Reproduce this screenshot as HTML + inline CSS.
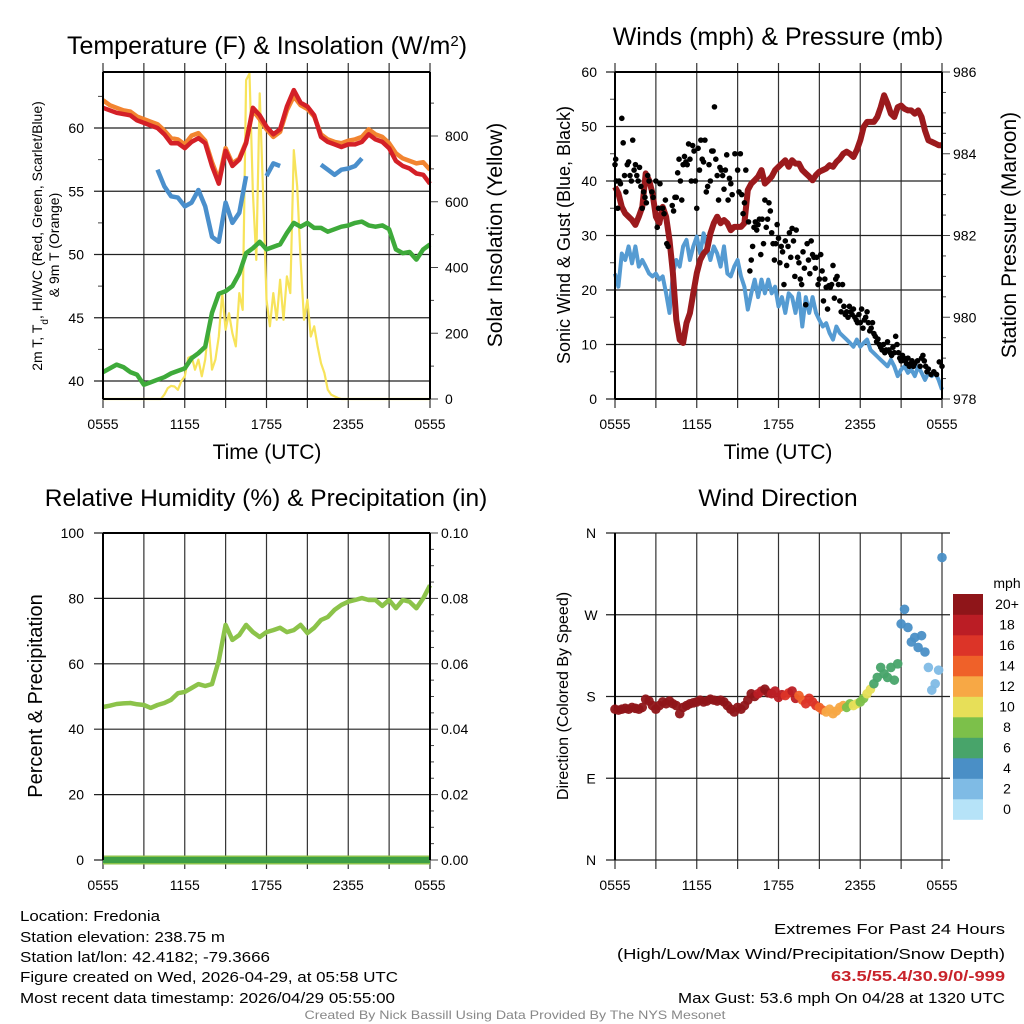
<!DOCTYPE html>
<html><head><meta charset="utf-8"><style>
html,body{margin:0;padding:0;background:#fff;}
svg{display:block;font-family:"Liberation Sans",Arial,sans-serif;}
</style></head><body>
<svg id="root" width="1024" height="1024" viewBox="0 0 1024 1024" xmlns="http://www.w3.org/2000/svg"></svg>
<script>
// ---------- DATA ----------
const timeTicks = ["0555","1155","1755","2355","0555"];
const tempRed = [61.6,61.4,61.2,61.1,61.0,60.6,60.4,60.2,60.0,59.5,58.8,58.8,58.4,58.9,59.2,58.8,57.0,55.6,58.2,57.0,57.5,58.8,61.6,61.0,60.1,59.5,59.9,61.7,63.0,62.0,61.7,61.0,59.3,58.9,58.7,58.5,58.7,58.7,58.9,59.5,59.1,58.9,58.4,57.4,57.0,56.8,56.4,56.3,55.6];
const temp9m = [62.2,61.8,61.6,61.4,61.3,60.9,60.7,60.5,60.3,59.8,59.2,59.1,58.7,59.4,59.6,59.0,57.3,55.9,58.4,57.2,57.6,58.9,61.4,60.7,59.9,59.3,59.7,61.4,62.5,61.8,61.5,60.9,59.5,59.1,58.9,58.8,59.0,59.1,59.3,59.9,59.5,59.3,58.8,58.0,57.6,57.4,57.2,57.3,56.7];
const dewpt = [40.7,41.0,41.3,41.1,40.7,40.5,39.7,39.9,40.1,40.3,40.6,40.8,41.0,41.8,42.2,42.7,45.4,46.9,47.1,47.5,48.5,50.1,50.5,51.0,50.4,50.6,50.8,51.7,52.5,52.2,52.5,52.1,52.1,51.8,52.0,52.2,52.3,52.5,52.6,52.3,52.2,52.3,52.0,50.4,50.1,50.2,49.6,50.4,50.8];
const hiwc = [null,null,null,null,null,null,null,null,56.7,55.4,54.6,54.5,53.8,54.1,55.1,53.8,51.4,51.0,54.1,52.5,53.3,56.2,null,null,56.2,57.2,57.0,null,null,null,null,null,57.1,56.7,56.3,56.7,56.8,57.0,57.6,null,null,null,null,null,null,null,null,null,null];
const solar = [0,0,0,0,0,0,0,0,0,0,0,0,0,0,0,0,
 0,0,13,33, 40,38,28,54, 69,125,130,89, 120,69,120,221, 89,120,190,322, 211,261,200,160,
 322,271,970,990, 626,423,930,626, 302,221,322,241, 363,241,373,322, 757,646,423,241,
 302,190,221,160, 109,79,28,13, 8,3,0,0,
 0,0,0,0,0,0,0,0,0,0,0,0,0,0,0,0,0,0,0,0,0,0,0,0, 0];
const wind = [23,20.6,26.7,25.5, 28,24.9,28,24.3, 25.5,24.3,23,22.5, 23,21.9,22.5,19.4, 15.8,23,25.5,24.3, 28,29.2,25.5,28, 29.8,26.7,30.4,28, 25.5,28,26.7,24.3, 28,23,22.5,24.3, 25.5,22.5,20.6,16.4, 19.4,21.9,18.7,21.9, 19.4,21.9,19.4,20.6, 17,18.7,15.8,19.4, 18.7,15.8,19.4,13.3, 18.7,15.8,18.7,15.8, 14.5,13.3,13.9,12.1, 10.9,13.3,12.1,11.5, 10.9,10.3,9.6,10.9, 9.6,10.3,10.9,9, 8.4,7.8,7.2,6.6, 6,7.2,6,4.2, 5.4,6,4.8,5.4, 4.2,6,4.8,3.5, 4.8,4.2,4.8,3.5, 1.7];
const pressure = [983.19,983.03,982.70,982.54, 982.46,982.38,982.26,982.46, 982.70,983.52,983.35,983.03, 982.46,982.30,982.70,982.46, 981.89,981.08,979.94,979.45, 979.37,979.86,980.10,980.59, 981.08,981.40,981.56,981.65, 982.05,982.30,982.46,982.30, 982.38,982.30,982.13,982.21, 982.21,982.21,982.30,983.11, 983.27,983.35,983.44,983.60, 983.27,983.35,983.44,983.60, 983.68,983.76,983.84,983.68, 983.84,983.76,983.76,983.60, 983.52,983.44,983.35,983.48, 983.56,983.60,983.64,983.72, 983.68,983.80,983.88,984.00, 984.05,984.00,983.92,984.09, 984.33,984.66,984.78,984.78, 984.78,984.90,985.14,985.43, 985.23,984.98,984.90,985.14, 985.18,985.10,985.06,985.06, 984.98,985.06,984.90,984.57, 984.33,984.29,984.25,984.21, 984.21];
const gustT = [0.0,0.05,0.1,0.2,0.3,0.4,0.5,0.6,0.7,0.8,0.9,1.0,1.1,1.2,1.3,1.4,1.5,1.6,1.7,1.8,1.9,2.0,2.1,2.2,2.3,2.4,2.5,2.7,2.8,3.0,3.1,3.2,3.3,3.5,3.6,3.7,3.8,3.9,4.2,4.3,4.4,4.5,4.6,4.7,4.8,4.9,5.0,5.1,5.2,5.3,5.4,5.5,5.6,5.7,5.8,5.9,6.0,6.1,6.2,6.3,6.4,6.5,6.6,6.7,6.8,6.9,7.0,7.1,7.2,7.3,7.4,7.5,7.6,7.7,7.8,7.9,8.0,8.1,8.2,8.3,8.4,8.5,8.6,8.8,
 9.0,9.1,9.2,9.3,9.4,9.5,9.6,9.8,9.9,10.0,10.1,10.2,10.3,10.4,10.5,10.6,10.7,10.8,10.9,11.0,11.1,11.2,11.3,11.4,11.5,11.6,11.7,11.8,11.9,12.0,12.1,12.2,12.3,12.4,12.5,12.6,12.7,12.8,12.9,13.0,13.1,13.2,13.3,13.4,13.5,13.6,13.7,13.8,13.9,14.0,14.1,14.2,14.3,14.4,14.5,14.6,14.7,14.8,14.9,15.0,15.1,15.2,15.3,15.4,15.5,15.6,15.7,15.8,15.9,16.0,16.1,16.2,16.3,16.4,16.5,16.6,16.7,16.8,16.9,17.0,17.1,17.2,17.3,17.4,17.5,17.6,17.7,17.8,17.9,18.0,18.1,18.2,18.3,18.4,18.5,18.6,18.7,18.8,18.9,19.0,19.1,19.2,19.3,19.4,19.5,19.6,19.7,19.8,19.9,20.0,20.1,20.2,20.3,20.4,20.5,20.6,20.7,20.8,20.9,21.0,21.1,21.2,21.3,21.4,21.5,21.6,21.7,21.8,21.9,22.0,22.2,22.4,22.5,22.6,22.7,22.8,22.9,23.0,23.2,23.4,23.6,23.8,24.0];
const gustV = [43,44,40,35,40,39.5,51.5,47,41,38,43,43.5,41,40,47.5,42,43,41,40,42.5,39,35,38,37,36,41,40,38,37,40,31.5,35,39.5,35,34,36.5,28.5,28,35.5,34.5,37,37,41.5,44,40,36.5,43,44.5,43.5,43,46.8,44,40,46.5,45.5,40,35,46,42,47.5,44,43.5,47.5,38,39,43,40,45.5,45.5,53.6,44,41,36.5,42.5,42,41,38.5,42,44.8,36.5,40.5,39.5,37.5,45,
 42,38,45,37.5,34,36,42,32.5,23.5,25.5,28,31.5,32.5,31,32,33,26.5,33,28.5,36.5,31.5,33,36,34.5,30.5,28.5,25.5,28.5,32,29.5,25,28,27,21,29,24.5,28,30.5,26,31.3,29,22.5,31,26,25,22,21,27,24,17.3,28.5,25.5,23,29,26.5,26,24,26,21,22,26.5,23.5,18,22,20.5,16.5,20.8,20.5,21,24.5,18.5,22,22.5,21,18,16,21,17,15.5,16,15,17,16,15.5,16.5,15,14.5,14,15.5,14,16.5,13,14.5,15,16,14,12.5,13,14,12,11.5,10.5,11,10,9.5,9,10,8.5,9,10.5,9,8.5,8,9.5,8.5,11.5,10,8.5,7.5,7,8,7.5,7,6.5,7.5,6,6.5,7,6,6.5,7,6,7.5,8,7,6,5,5.5,4.5,5,4.5,6.8,6];
const rh = [46.8,47.2,47.7,47.9,48.0,47.6,47.4,46.5,47.4,48.0,49.0,51.0,51.4,52.6,53.8,53.2,53.8,61.0,71.9,67.3,68.8,71.9,69.7,68.2,69.7,70.3,71.0,69.7,70.3,71.9,69.4,71.0,73.4,74.3,76.5,78.0,79.0,79.5,80.1,79.5,79.5,77.7,79.5,77.0,79.5,79.0,77.0,80.0,84.0];
const precip = [0,0,0,0,0,0,0,0,0,0,0,0,0,0,0,0,0,0,0,0,0,0,0,0,0,0,0,0,0,0,0,0,0,0,0,0,0,0,0,0,0,0,0,0,0,0,0,0,0];
const windDir = [166,165,166,167, 166,168,167,166, 168,177,175,170, 166,170,174,172, 175,172,170,161, 168,170,172,173, 174,176,174,175, 177,176,175,176, 174,170,166,163, 168,166,170,176, 183,180,183,186, 188,184,183,186, 179,182,181,184, 186,178,181,176, 172,178,174,170, 168,165,163,166, 161,164,168,170, 168,172,170,172, 174,178,183,188, 194,201,212,205, 201,212,198,216, 260,276,256,240, 245,234,247,229, 212,187,194,209, 333];
const dirSpeed = [22,22,22,22,22,22,22,22,22,22,22,22,22,22,22,22,22,22,22,22,21,19,20,18,19,17,18,15,17,16,14,13,13,12,9,10,9,10,7,6,6,7,4,4,4,5,3,3,4];
const speedLabels = ["0","2","4","6","8","10","12","14","16","18","20+"];
const speedColors = ["#b6e3f8","#7fbbe5","#4a8fc6","#48a46a","#7cc04a","#e7df58","#f7a845","#ef6129","#dc3428","#bb1d25","#8f1519"];
const dirLabels = ["N","E","S","W","N"];

// ---------- HELPERS ----------
const NS = "http://www.w3.org/2000/svg";
const root = document.getElementById('root');
function mk(tag, attrs, parent){
  const e = document.createElementNS(NS, tag);
  for (const k in attrs) e.setAttribute(k, attrs[k]);
  (parent||root).appendChild(e);
  return e;
}
function txt(s, x, y, size, anchor, parent, extra){
  const a = {x:x, y:y, 'font-size':size, 'text-anchor':anchor||'middle', fill:'#000'};
  if (extra) for (const k in extra) a[k]=extra[k];
  const t = mk('text', a, parent);
  t.textContent = s;
  return t;
}
function lin(d0,d1,r0,r1){ return v => r0 + (v-d0)/(d1-d0)*(r1-r0); }
function pathFrom(vals, step, sx, sy){
  let d = '', pen = false;
  vals.forEach((v,i)=>{
    if (v===null){ pen=false; return; }
    d += (pen?'L':'M') + sx(i*step).toFixed(1) + ',' + sy(v).toFixed(1);
    pen = true;
  });
  return d;
}

function panelFrame(g, p, opt){
  const sx = lin(0,24,p.x0,p.x1);
  for (let h=0; h<=24; h+=3){
    const gl = mk('line',{x1:sx(h),x2:sx(h),y1:p.y0-(opt.topTick?9:0),y2:p.y1+9,stroke:'#333','stroke-width':1.2},g);
    
    
  }
  timeTicks.forEach((s,i)=>{
    const t = txt(s, sx(i*6), p.y1+30, 14, 'middle', g);
    
    
  });
  return sx;
}

// ---------- PANEL 1: Temperature ----------
(function(){
  const p = {x0:103,x1:430,y0:72,y1:399};
  const g = mk('g',{});
  
  
  const sx = panelFrame(g,p,{topTick:true});
  const sy = lin(40,60,381,128);
  const sr = lin(0,800,399,136);
  [40,45,50,55,60].forEach(v=>{
    const l = mk('line',{x1:p.x0-9,x2:p.x1,y1:sy(v),y2:sy(v),stroke:'#222','stroke-width':1.2},g);
    
    
    const t = txt(String(v), p.x0-19, sy(v)+5, 14, 'end', g);
    
    
  });
  [42.5,47.5,52.5,57.5,62.5].forEach(v=>{
    const l = mk('line',{x1:p.x0-5,x2:p.x0,y1:sy(v),y2:sy(v),stroke:'#444','stroke-width':1},g);
    
    
  });
  for (let v=0; v<=900; v+=100){
    const major = v%200===0;
    const l = mk('line',{x1:p.x1,x2:p.x1+(major?8:4),y1:sr(v),y2:sr(v),stroke:'#444','stroke-width':1},g);
    
    
    if (major){
      const t = txt(String(v), p.x1+15, sr(v)+5, 14, 'start', g);
      
      
    }
  }
  const so = mk('path',{d:pathFrom(solar,0.25,sx,sr),fill:'none',stroke:'#f7e35a','stroke-width':2.2,'stroke-linejoin':'round'},g);
  
  
  const gr = mk('path',{d:pathFrom(dewpt,0.5,sx,sy),fill:'none',stroke:'#3eaa3a','stroke-width':4.5,'stroke-linejoin':'round'},g);
  
  
  const bl = mk('path',{d:pathFrom(hiwc,0.5,sx,sy),fill:'none',stroke:'#4a8fcc','stroke-width':4.5,'stroke-linejoin':'round'},g);
  
  
  const or = mk('path',{d:pathFrom(temp9m,0.5,sx,sy),fill:'none',stroke:'#f28430','stroke-width':4.5,'stroke-linejoin':'round'},g);
  
  
  const rd = mk('path',{d:pathFrom(tempRed,0.5,sx,sy),fill:'none',stroke:'#d42027','stroke-width':4.5,'stroke-linejoin':'round'},g);
  
  
  const fr = mk('path',{d:`M${p.x0},${p.y0}L${p.x1},${p.y0}M${p.x1},${p.y0}L${p.x1},${p.y1}M${p.x0},${p.y1}L${p.x1},${p.y1}M${p.x0},${p.y0}L${p.x0},${p.y1}`,stroke:'#000','stroke-width':2,fill:'none'},g);
  
  
  const ti = mk('text',{x:267,y:54,'font-size':25,'text-anchor':'middle'},g);
  ti.innerHTML = 'Temperature (F) &amp; Insolation (W/m<tspan baseline-shift="super" font-size="15">2</tspan>)';
  
  
  const xl = txt('Time (UTC)', 267, 459, 21, 'middle', g);
  
  
  const yl = mk('text',{x:0,y:0,'font-size':14,'text-anchor':'middle',transform:'translate(42,236) rotate(-90)'},g);
  yl.innerHTML = '2m T, T<tspan baseline-shift="sub" font-size="10">d</tspan>, HI/WC (Red, Green, Scarlet/Blue)';
  
  
  const yl2 = txt('& 9m T (Orange)', 0, 0, 14, 'middle', g, {transform:'translate(59,245) rotate(-90)'});
  
  
  const yr = txt('Solar Insolation (Yellow)', 0, 0, 21, 'middle', g, {transform:'translate(502,235) rotate(-90)'});
  
  
})();

// ---------- PANEL 2: Winds ----------
(function(){
  const p = {x0:615,x1:942,y0:72,y1:399};
  const g = mk('g',{});
  
  
  const sx = panelFrame(g,p,{topTick:true});
  const sy = lin(0,60,399,72);
  const sp = lin(978,986,399,72);
  [0,10,20,30,40,50,60].forEach(v=>{
    const l = mk('line',{x1:p.x0-9,x2:p.x1,y1:sy(v),y2:sy(v),stroke:'#222','stroke-width':1.2},g);
    
    
    const t = txt(String(v), p.x0-18, sy(v)+5, 14, 'end', g);
    
    
  });
  [5,15,25,35,45,55].forEach(v=>{
    const l = mk('line',{x1:p.x0-5,x2:p.x0,y1:sy(v),y2:sy(v),stroke:'#444','stroke-width':1},g);
    
    
  });
  for (let v=978; v<=986; v+=0.5){
    const major = Math.abs(v%2)<0.01;
    const l = mk('line',{x1:p.x1,x2:p.x1+(major?8:4),y1:sp(v),y2:sp(v),stroke:'#444','stroke-width':1},g);
    
    
    if (major){
      const t = txt(String(v), p.x1+11, sp(v)+5, 14, 'start', g);
      
      
    }
  }
  const bw = mk('path',{d:pathFrom(wind,0.25,sx,sy),fill:'none',stroke:'#559bd2','stroke-width':4,'stroke-linejoin':'round'},g);
  
  
  const pr = mk('path',{d:pathFrom(pressure,0.25,sx,sp),fill:'none',stroke:'#9b1a1d','stroke-width':6,'stroke-linejoin':'round'},g);
  
  
  gustT.forEach((t,i)=>{
    const c = mk('circle',{cx:sx(t),cy:sy(gustV[i]),r:2.8,fill:'#000'},g);
    
    
  });
  const fr = mk('path',{d:`M${p.x0},${p.y0}L${p.x1},${p.y0}M${p.x1},${p.y0}L${p.x1},${p.y1}M${p.x0},${p.y1}L${p.x1},${p.y1}M${p.x0},${p.y0}L${p.x0},${p.y1}`,stroke:'#000','stroke-width':2,fill:'none'},g);
  
  
  const ti = txt('Winds (mph) & Pressure (mb)', 778, 45, 25, 'middle', g);
  
  
  const xl = txt('Time (UTC)', 778, 459, 21, 'middle', g);
  
  
  const yl = txt('Sonic Wind & Gust (Blue, Black)', 0, 0, 18, 'middle', g, {transform:'translate(570,235) rotate(-90)'});
  
  
  const yr = txt('Station Pressure (Maroon)', 0, 0, 21, 'middle', g, {transform:'translate(1016,235) rotate(-90)'});
  
  
})();

// ---------- PANEL 3: RH ----------
(function(){
  const p = {x0:103,x1:430,y0:533,y1:860};
  const g = mk('g',{});
  
  
  const sx = panelFrame(g,p,{topTick:false});
  const sy = lin(0,100,860,533);
  const spp = lin(0,0.1,860,533);
  [0,20,40,60,80,100].forEach(v=>{
    const l = mk('line',{x1:p.x0-9,x2:p.x1,y1:sy(v),y2:sy(v),stroke:'#222','stroke-width':1.2},g);
    
    
    const t = txt(String(v), p.x0-19, sy(v)+5, 14, 'end', g);
    
    
  });
  for (let v=0; v<=0.1001; v+=0.005){
    const major = Math.round(v*1000)%20===0;
    const l = mk('line',{x1:p.x1,x2:p.x1+(major?8:4),y1:spp(v),y2:spp(v),stroke:'#444','stroke-width':1},g);
    
    
    if (major){
      const t = txt(v.toFixed(2), p.x1+11, spp(v)+5, 14, 'start', g);
      
      
    }
  }
  const rl = mk('path',{d:pathFrom(rh,0.5,sx,sy),fill:'none',stroke:'#8cc34a','stroke-width':4.5,'stroke-linejoin':'round'},g);
  
  
  const pl0 = mk('path',{d:pathFrom(precip,0.5,sx,spp),fill:'none',stroke:'#8cc34a','stroke-width':9},g);
  
  
  const pl = mk('path',{d:pathFrom(precip,0.5,sx,spp),fill:'none',stroke:'#3e9f45','stroke-width':6},g);
  
  
  const fr = mk('path',{d:`M${p.x0},${p.y0}L${p.x1},${p.y0}M${p.x1},${p.y0}L${p.x1},${p.y1}M${p.x0},${p.y0}L${p.x0},${p.y1}`,stroke:'#000','stroke-width':2,fill:'none'},g);
  
  
  const ti = txt('Relative Humidity (%) & Precipitation (in)', 266, 506, 24.5, 'middle', g);
  
  
  const yl = txt('Percent & Precipitation', 0, 0, 20, 'middle', g, {transform:'translate(42,696) rotate(-90)'});
  
  
})();

// ---------- PANEL 4: Wind Direction ----------
(function(){
  const p = {x0:615,x1:942,y0:533,y1:860};
  const g = mk('g',{});
  
  
  const sx = panelFrame(g,p,{topTick:false});
  const sy = lin(0,360,860,533);
  dirLabels.forEach((s,i)=>{
    const v = i*90;
    const l = mk('line',{x1:606,x2:950,y1:sy(v),y2:sy(v),stroke:'#222','stroke-width':1.2},g);
    
    
    const t = txt(s, 591, sy(v)+5, 14, 'middle', g);
    
    
  });
  const lb = mk('line',{x1:p.x0,x2:p.x0,y1:p.y0,y2:p.y1,stroke:'#000','stroke-width':2},g);
  
  
  windDir.forEach((d,i)=>{
    const sp = dirSpeed[Math.floor(i/2)];
    const ci = Math.max(0, Math.min(10, Math.floor(sp/2)));
    const c = mk('circle',{cx:sx(i*0.25),cy:sy(d),r:4.8,fill:speedColors[ci],'fill-opacity':0.95},g);
    
    
  });
  speedColors.forEach((col,i)=>{
    const y = 594 + (10-i)*20.5;
    const r = mk('rect',{x:953,y:y,width:30,height:20.8,fill:col},g);
    
    
    const t = txt(speedLabels[i], 1007, y+15, 14, 'middle', g);
    
    
  });
  const cu = txt('mph', 1007, 588, 14, 'middle', g);
  
  
  const ti = txt('Wind Direction', 778, 506, 24.5, 'middle', g);
  
  
  const yl = txt('Direction (Colored By Speed)', 0, 0, 16, 'middle', g, {transform:'translate(568,696) rotate(-90)'});
  
  
})();

// ---------- FOOTER ----------
(function(){
  const g = mk('g',{});
  
  
  const left = [["Location: Fredonia",140,921],["Station elevation: 238.75 m",205,942],["Station lat/lon: 42.4182; -79.3666",250,962],["Figure created on Wed, 2026-04-29, at 05:58 UTC",378,982],["Most recent data timestamp: 2026/04/29 05:55:00",375,1003]];
  left.forEach(a=>{
    const t = txt(a[0], 20, a[2], 15, 'start', g, {textLength:a[1], lengthAdjust:'spacingAndGlyphs'});
    
    
  });
  const right = [["Extremes For Past 24 Hours",231,934,'#000','normal'],["(High/Low/Max Wind/Precipitation/Snow Depth)",388,959,'#000','normal'],["63.5/55.4/30.9/0/-999",174,981,'#c8232b','bold'],["Max Gust: 53.6 mph On 04/28 at 1320 UTC",327,1003,'#000','normal']];
  right.forEach(a=>{
    const t = txt(a[0], 1005, a[2], 15, 'end', g, {textLength:a[1], lengthAdjust:'spacingAndGlyphs', fill:a[3], 'font-weight':a[4]});
    
    
  });
  const cr = txt('Created By Nick Bassill Using Data Provided By The NYS Mesonet', 515, 1019, 12, 'middle', g, {fill:'#888', textLength:421, lengthAdjust:'spacingAndGlyphs'});
  
  
})();
</script>
</body></html>
